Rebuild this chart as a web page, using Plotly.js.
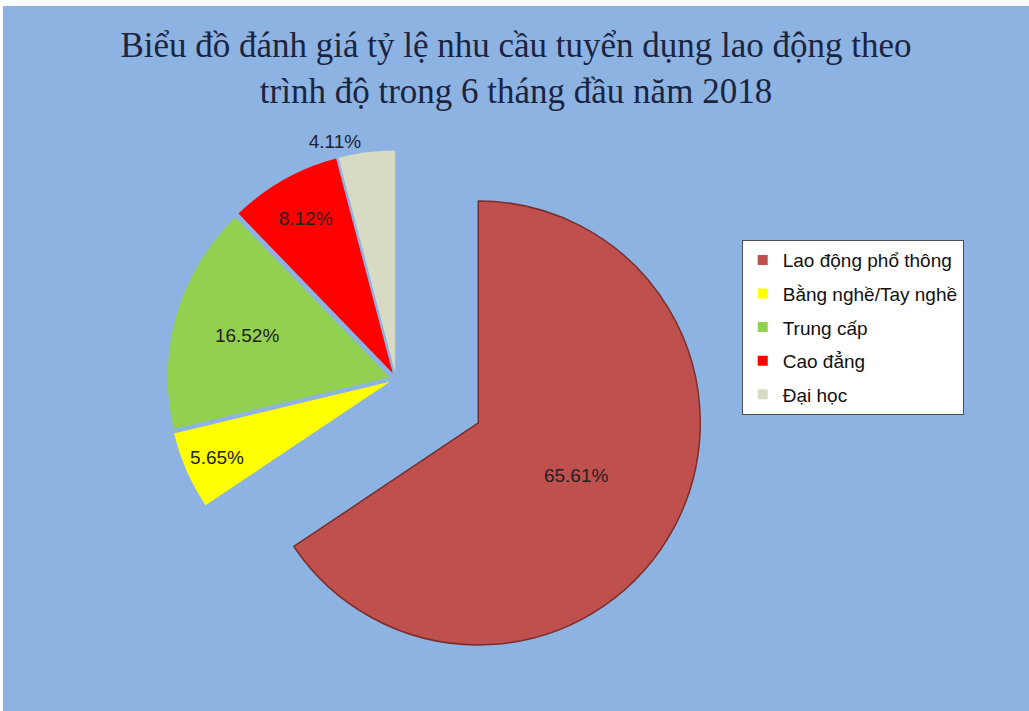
<!DOCTYPE html>
<html>
<head>
<meta charset="utf-8">
<script src="https://cdn.plot.ly/plotly-3.0.1.min.js"></script>
<style>
html,body{margin:0;padding:0;background:#ffffff;}
#chart{position:absolute;left:3px;top:6px;width:1026px;height:705px;}
</style>
</head>
<body>
<div id="chart"></div>
<script>
var categories = ["Lao động phổ thông", "Bằng nghề/Tay nghề", "Trung cấp", "Cao đẳng", "Đại học"];
var shares = [65.61, 5.65, 16.52, 8.12, 4.11];
var sliceColors = ["#C0504D", "#FFFF00", "#92D050", "#FF0000", "#D7DBC3"];
var pulls = [0.42, 0.03, 0.03, 0.03, 0.03];
var textPositions = ["inside", "inside", "inside", "inside", "outside"];
var titleText = "Biểu đồ đánh giá tỷ lệ nhu cầu tuyển dụng lao động theo<br>trình độ trong 6 tháng đầu năm 2018";

var pieTrace = {
  type: "pie",
  labels: categories,
  values: shares,
  sort: false,
  direction: "clockwise",
  rotation: 0,
  pull: pulls,
  marker: {
    colors: sliceColors,
    line: {color: ["#7A2E2C", "#C8C800", "#6E9E3A", "#B00000", "#4A5A50"], width: [1.5, 0, 0, 0, 0]}
  },
  texttemplate: "%{value:.2f}%",
  textposition: textPositions,
  insidetextorientation: "horizontal",
  textfont: {family: "Liberation Sans, Arial, sans-serif", size: 19, color: "#222222"},
  outsidetextfont: {family: "Liberation Sans, Arial, sans-serif", size: 19, color: "#222233"},
  showlegend: false,
  hoverinfo: "label+value",
  domain: {x: [0.0758, 0.6903], y: [0.0238, 0.918]}
};

var legendTraces = categories.map(function (name, i) {
  return {
    type: "scatter",
    mode: "markers",
    x: [null],
    y: [null],
    name: name,
    legendgroup: "g" + i,
    showlegend: true,
    marker: {symbol: "square", size: 10, color: sliceColors[i]},
    hoverinfo: "skip"
  };
});

var layout = {
  width: 1026,
  height: 705,
  paper_bgcolor: "#8DB3E2",
  plot_bgcolor: "rgba(0,0,0,0)",
  margin: {l: 0, r: 0, t: 0, b: 0},
  xaxis: {visible: false},
  yaxis: {visible: false},
  title: {
    text: titleText,
    x: 0.5,
    xanchor: "center",
    y: 0.927,
    yanchor: "middle",
    yref: "container",
    font: {family: "Liberation Serif, Times New Roman, serif", size: 35, color: "#1B2440"}
  },
  showlegend: true,
  legend: {
    x: 0.720,
    y: 0.668,
    xanchor: "left",
    yanchor: "top",
    bgcolor: "#FFFFFF",
    bordercolor: "#4D4D4D",
    borderwidth: 1,
    traceorder: "grouped",
    tracegroupgap: 5.9,
    font: {family: "Liberation Sans, Arial, sans-serif", size: 19, color: "#111111"}
  }
};

Plotly.newPlot("chart", [pieTrace].concat(legendTraces), layout, {displayModeBar: false, staticPlot: true});
</script>
</body>
</html>
